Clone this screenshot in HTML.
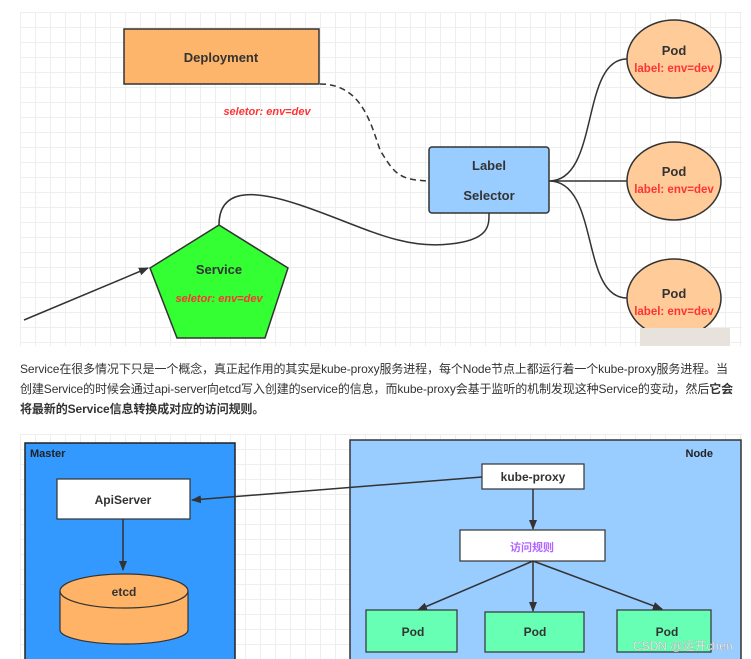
<!DOCTYPE html>
<html><head><meta charset="utf-8"><style>
body{margin:0;width:751px;height:659px;background:#fff;overflow:hidden;font-family:"Liberation Sans","Noto Sans CJK SC",sans-serif}
.grid{position:absolute;background-color:#fff;background-image:linear-gradient(#eee 1px,transparent 1px),linear-gradient(90deg,#eee 1px,transparent 1px);background-size:15px 15px}
p{position:absolute;left:20px;top:359px;width:722px;margin:0;font-size:12px;line-height:20px;color:#333;letter-spacing:-0.1px}
</style></head><body>
<div class="grid" style="left:20px;top:12px;width:722px;height:334px"></div>
<div class="grid" style="left:20px;top:434px;width:722px;height:225px"></div>
<svg width="751" height="659" style="position:absolute;left:0;top:0" font-family="Liberation Sans, Noto Sans CJK SC, sans-serif">
<defs><marker id="a" markerWidth="10" markerHeight="8" refX="9" refY="4" orient="auto" markerUnits="userSpaceOnUse"><path d="M0,0L10,4L0,8Z" fill="#333"/></marker></defs>
<rect x="124" y="29" width="195" height="55" fill="#fdb46b" stroke="#333" stroke-width="1.5"/>
<text x="221" y="62" text-anchor="middle" font-size="13" font-weight="bold" fill="#333">Deployment</text>
<text x="267" y="115" text-anchor="middle" font-size="11" font-weight="bold" font-style="italic" fill="#f33">seletor:  env=dev</text>
<path d="M320,84 C360,84 370,120 380,150 C395,175 400,180 430,181" fill="none" stroke="#333" stroke-width="1.5" stroke-dasharray="6,4"/>
<rect x="429" y="147" width="120" height="66" rx="3" fill="#99ccff" stroke="#333" stroke-width="1.5"/>
<text x="489" y="170" text-anchor="middle" font-size="13" font-weight="bold" fill="#333">Label</text>
<text x="489" y="200" text-anchor="middle" font-size="13" font-weight="bold" fill="#333">Selector</text>
<path d="M549,181 C600,181 580,59 627,59 M549,181 L627,181 M549,181 C600,181 580,298 627,298" fill="none" stroke="#333" stroke-width="1.5"/>
<path d="M219,225 C219,190 250,188 300,205 C360,225 400,250 450,244 C490,240 489,225 489,213" fill="none" stroke="#333" stroke-width="1.5"/>
<g font-weight="bold" text-anchor="middle">
<ellipse cx="674" cy="59" rx="47" ry="39" fill="#ffcc99" stroke="#333" stroke-width="1.5"/>
<text x="674" y="55" font-size="13" fill="#333">Pod</text><text x="674" y="72" font-size="11.5" fill="#f33">label: env=dev</text>
<ellipse cx="674" cy="181" rx="47" ry="39" fill="#ffcc99" stroke="#333" stroke-width="1.5"/>
<text x="674" y="176" font-size="13" fill="#333">Pod</text><text x="674" y="193" font-size="11.5" fill="#f33">label: env=dev</text>
<ellipse cx="674" cy="298" rx="47" ry="39" fill="#ffcc99" stroke="#333" stroke-width="1.5"/>
<text x="674" y="298" font-size="13" fill="#333">Pod</text><text x="674" y="315" font-size="11.5" fill="#f33">label: env=dev</text>
</g>
<rect x="640" y="328" width="90" height="18" fill="#e8e2dc"/>
<polygon points="219,225 288,268 265,338 177,338 150,268" fill="#33ff33" stroke="#333" stroke-width="1.5"/>
<text x="219" y="274" text-anchor="middle" font-size="13" font-weight="bold" fill="#333">Service</text>
<text x="219" y="302" text-anchor="middle" font-size="11" font-weight="bold" font-style="italic" fill="#f33">seletor:  env=dev</text>
<line x1="24" y1="320" x2="148" y2="268" stroke="#333" stroke-width="1.5" marker-end="url(#a)"/>

<rect x="25" y="443" width="210" height="220" fill="#3399ff" stroke="#222" stroke-width="1.5"/>
<text x="30" y="457" font-size="11" font-weight="bold" fill="#222">Master</text>
<rect x="57" y="479" width="133" height="40" fill="#fff" stroke="#333" stroke-width="1.2"/>
<text x="123" y="504" text-anchor="middle" font-size="12" font-weight="bold" fill="#333">ApiServer</text>
<line x1="123" y1="519" x2="123" y2="570" stroke="#333" stroke-width="1.5" marker-end="url(#a)"/>
<path d="M60,591 L60,630 A64,14 0 0 0 188,630 L188,591" fill="#ffb366" stroke="#333" stroke-width="1.2"/>
<ellipse cx="124" cy="591" rx="64" ry="17" fill="#ffb366" stroke="#333" stroke-width="1.2"/>
<text x="124" y="596" text-anchor="middle" font-size="12" font-weight="bold" fill="#333">etcd</text>

<rect x="350" y="440" width="391" height="222" fill="#99ccff" stroke="#333" stroke-width="1.5"/>
<text x="713" y="457" text-anchor="end" font-size="11" font-weight="bold" fill="#222">Node</text>
<rect x="482" y="464" width="102" height="25" fill="#fff" stroke="#333" stroke-width="1.2"/>
<text x="533" y="481" text-anchor="middle" font-size="12" font-weight="bold" fill="#333">kube-proxy</text>
<line x1="482" y1="477" x2="192" y2="500" stroke="#333" stroke-width="1.5" marker-end="url(#a)"/>
<line x1="533" y1="489" x2="533" y2="529" stroke="#333" stroke-width="1.5" marker-end="url(#a)"/>
<rect x="460" y="530" width="145" height="31" fill="#fff" stroke="#333" stroke-width="1.2"/>
<text x="532" y="551" text-anchor="middle" font-size="11" font-weight="bold" fill="#b266ff">访问规则</text>
<line x1="533" y1="561" x2="418" y2="610" stroke="#333" stroke-width="1.5" marker-end="url(#a)"/>
<line x1="533" y1="561" x2="533" y2="611" stroke="#333" stroke-width="1.5" marker-end="url(#a)"/>
<line x1="533" y1="561" x2="662" y2="609" stroke="#333" stroke-width="1.5" marker-end="url(#a)"/>
<g font-size="12" font-weight="bold" fill="#333" text-anchor="middle">
<rect x="366" y="610" width="91" height="42" fill="#66ffb3" stroke="#333" stroke-width="1.2"/><text x="413" y="636">Pod</text>
<rect x="485" y="612" width="99" height="40" fill="#66ffb3" stroke="#333" stroke-width="1.2"/><text x="535" y="636">Pod</text>
<rect x="617" y="610" width="94" height="42" fill="#66ffb3" stroke="#333" stroke-width="1.2"/><text x="667" y="636">Pod</text>
</g>
<text x="633" y="650" font-size="12" fill="#fff" stroke="#999" stroke-width="0.3">CSDN @运开chen</text>
</svg>
<p>Service在很多情况下只是一个概念，真正起作用的其实是kube-proxy服务进程，每个Node节点上都运行着一个kube-proxy服务进程。当<br>创建Service的时候会通过api-server向etcd写入创建的service的信息，而kube-proxy会基于监听的机制发现这种Service的变动，然后<b>它会<br>将最新的Service信息转换成对应的访问规则。</b></p>
</body></html>
